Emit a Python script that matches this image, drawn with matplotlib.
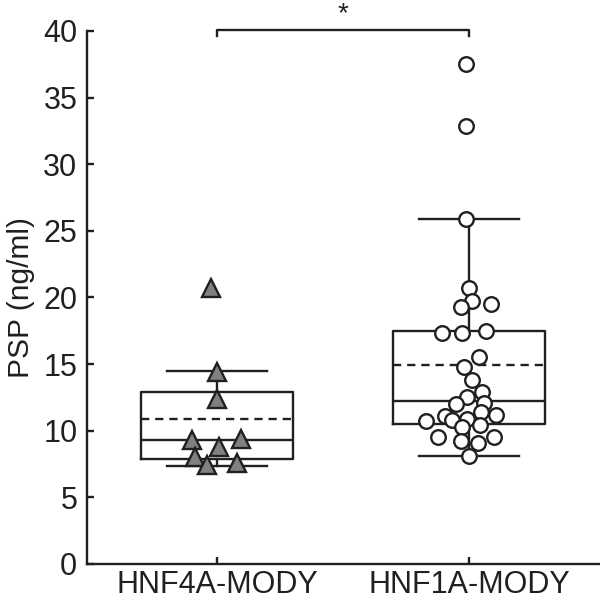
import matplotlib.pyplot as plt

plt.rcParams['font.family'] = ['Liberation Sans', 'DejaVu Sans']

groups = ['HNF4A-MODY', 'HNF1A-MODY']

# individual values (ng/ml)
hnf4a = [20.7, 14.4, 12.4, 9.3, 9.4, 8.8, 8.0, 7.4, 7.6]
hnf1a = [37.5, 32.9, 25.9, 20.7, 19.7, 19.3, 19.5, 17.3, 17.3, 17.5,
         15.5, 14.8, 13.8, 12.9, 12.5, 12.1, 12.0, 11.1, 11.4, 11.2,
         10.7, 10.8, 10.9, 10.3, 10.4, 9.5, 9.5, 9.2, 9.1, 8.1]

# horizontal spread of the points (pixels from group centre, as in the original)
spread4a = [-6, 0, 0, -25, 24, 2, -22, -10, 20]
spread1a = [-3, -3, -3, 0, 3, -8, 22, -27, -7, 17,
            10, -5, 3, 13, -2, 15, -13, -24, 12, 27,
            -43, -17, -2, -7, 11, -31, 25, -8, 9, 0]

# box summaries: 10th, 25th, median, 75th, 90th percentile, mean
whislo = [7.35, 8.1]
q1 = [7.9, 10.5]
med = [9.3, 12.2]
q3 = [12.9, 17.45]
whishi = [14.45, 25.9]
mean = [10.85, 14.9]

ink = '#231f20'

fig = plt.figure(figsize=(6, 6.03), dpi=100)
ax = fig.add_axes([0.145, 0.0647, 0.86, 0.884])

stats = []
for i in range(2):
    stats.append(dict(med=med[i], q1=q1[i], q3=q3[i], whislo=whislo[i],
                      whishi=whishi[i], mean=mean[i], fliers=[]))

lp = dict(color=ink, linewidth=1.7)
ax.bxp(stats, positions=[1, 2], widths=0.6, capwidths=0.4,
       showmeans=True, meanline=True, showfliers=False,
       boxprops=lp, whiskerprops=lp, capprops=lp, medianprops=lp,
       meanprops=dict(color=ink, linewidth=1.7, linestyle=(0, (3.5, 2.5))))

px = 252.0
ax.plot([1 + s / px for s in spread4a], hnf4a, linestyle='none', marker='^',
        markersize=13, markerfacecolor='#808080', markeredgecolor=ink,
        markeredgewidth=1.7, zorder=5)
ax.plot([2 + s / px for s in spread1a], hnf1a, linestyle='none', marker='o',
        markersize=10.5, markerfacecolor='white', markeredgecolor=ink,
        markeredgewidth=1.7, zorder=5)

# significance bracket
ax.plot([1, 1, 2, 2], [39.6, 40.1, 40.1, 39.6], color=ink, linewidth=1.7,
        clip_on=False)
ax.text(1.5, 40.25, '*', ha='center', va='bottom', fontsize=20, color=ink)

ax.set_xlim(0.484, 2.532)
ax.set_ylim(0, 40)
ax.set_yticks(range(0, 41, 5))
ax.set_xticks([1, 2])
ax.set_xticklabels(groups)
ax.set_ylabel('PSP (ng/ml)', fontsize=21.5, color=ink, labelpad=6)
ax.tick_params(labelsize=22, colors=ink, width=1.7, length=5, direction='in')
ax.tick_params(axis='x', pad=4)
ax.tick_params(axis='y', pad=7)
for s in ['top', 'right']:
    ax.spines[s].set_visible(False)
for s in ['left', 'bottom']:
    ax.spines[s].set_linewidth(1.7)
    ax.spines[s].set_color(ink)

fig.savefig('out.png', dpi=100)
